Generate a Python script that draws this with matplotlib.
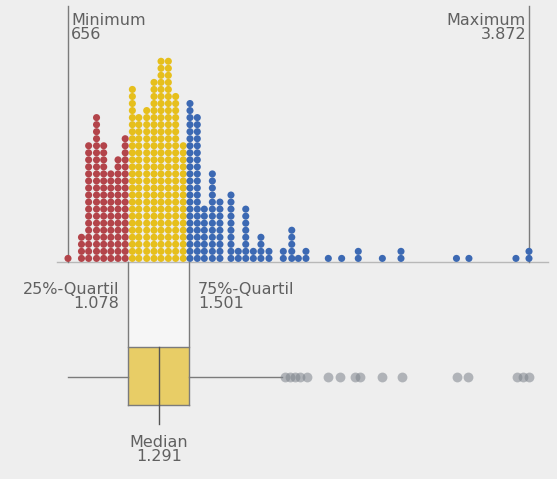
import matplotlib
matplotlib.use("Agg")
import matplotlib.pyplot as plt
import numpy as np

# ---------------- data ----------------
stack_values = [656, 750, 800, 855, 905, 955, 1005, 1055,
                1105, 1150, 1205, 1256, 1305, 1356, 1407, 1460,
                1507, 1558, 1607, 1663, 1716, 1793, 1844, 1896, 1949, 2002,
                2058, 2158, 2217, 2263, 2316, 2472, 2565, 2681, 2849, 2979,
                3366, 3453, 3781, 3872]
stack_counts = [1, 4, 17, 21, 17, 13, 15, 18,
                25, 21, 22, 26, 29, 29, 24, 17,
                23, 21, 8, 13, 9, 10, 2, 8, 2, 4,
                2, 2, 5, 1, 2, 1, 1, 2, 1, 2,
                1, 1, 1, 2]
minimum = 656
maximum = 3872
q1 = 1078
median = 1291
q3 = 1501
upper_whisker = 2150
outliers = [2170, 2205, 2240, 2275, 2322, 2472, 2554, 2659, 2694,
            2845, 2985, 3369, 3449, 3790, 3832, 3872]

def de(v):
    return f"{v:,}".replace(",", ".")

# ---------------- style ----------------
BG = "#eeeeee"
RED = "#b3444a"
YEL = "#e6bf1c"
BLUE = "#3c69b3"
BOXFILL = "#e8cd66"
LINE = "#7b7b7b"
TXT = "#606060"
W, H = 557, 479
BASE = 262.0      # baseline pixel row
ROW = 7.04        # dot row spacing (px)
PX0, PX1 = 68.0, 529.0   # pixel positions of min / max

plt.rcParams['font.family'] = ['DejaVu Sans']
fig = plt.figure(figsize=(W / 100, H / 100), dpi=100, facecolor=BG)
ax = fig.add_axes([0, 0, 1, 1], facecolor=BG)
k = (PX1 - PX0) / (maximum - minimum)
ax.set_xlim(minimum - PX0 / k, minimum + (W - PX0) / k)
ax.set_ylim(H, 0)
ax.axis("off")

# baseline
ax.plot([minimum - 11 / k, minimum + (W - 9 - PX0) / k], [BASE, BASE],
        color="#b8b8b8", lw=1.0, zorder=1)

# min / max lines
ax.plot([minimum, minimum], [BASE, 6], color=LINE, lw=1.0, zorder=1)
ax.plot([maximum, maximum], [BASE, 6], color=LINE, lw=1.0, zorder=1)

# dot stacks
xs, ys, cs = [], [], []
for v, c in zip(stack_values, stack_counts):
    col = RED if v < q1 else (YEL if v <= q3 else BLUE)
    for i in range(c):
        xs.append(v)
        ys.append(BASE - 3.6 - ROW * i)
        cs.append(col)
ax.scatter(xs, ys, s=26, c=cs, linewidths=0, zorder=3)

# box region
BOX_TOP, BOX_BOT, WHISK_Y, MED_BOT = 347.0, 405.0, 376.5, 424.0
ax.fill_between([q1, q3], BASE, BOX_TOP, color="#f6f6f6", lw=0, zorder=0.5)
ax.fill_between([q1, q3], BOX_TOP, BOX_BOT, color=BOXFILL, lw=0, zorder=2)
ax.plot([q1, q1], [BASE, BOX_BOT], color=LINE, lw=1.0, zorder=2.5)
ax.plot([q3, q3], [BASE, BOX_BOT], color=LINE, lw=1.0, zorder=2.5)
ax.plot([q1, q3], [BOX_TOP, BOX_TOP], color=LINE, lw=1.0, zorder=2.5)
ax.plot([q1, q3], [BOX_BOT, BOX_BOT], color=LINE, lw=1.0, zorder=2.5)
ax.plot([median, median], [BOX_TOP, MED_BOT], color="#555555", lw=1.0, zorder=2.6)
ax.plot([minimum, q1], [WHISK_Y, WHISK_Y], color=LINE, lw=1.0, zorder=2)
ax.plot([q3, upper_whisker], [WHISK_Y, WHISK_Y], color=LINE, lw=1.0, zorder=2)
ax.scatter(outliers, [WHISK_Y] * len(outliers), s=50, color="#7d848c",
           alpha=0.55, linewidths=0, zorder=3)

# labels
fs = 11.5
ls = 0.95
ax.annotate(f"Minimum\n{de(minimum)}", (minimum, 13), xytext=(3, 0),
            textcoords="offset pixels", ha="left", va="top", fontsize=fs,
            color=TXT, linespacing=ls)
ax.annotate(f"Maximum\n{de(maximum)}", (maximum, 13), xytext=(-3, 0),
            textcoords="offset pixels", ha="right", va="top", fontsize=fs,
            color=TXT, linespacing=ls, multialignment="right")
ax.annotate(f"25%-Quartil\n{de(q1)}", (q1, 282), xytext=(-9, 0),
            textcoords="offset pixels", ha="right", va="top", fontsize=fs,
            color=TXT, linespacing=ls, multialignment="right")
ax.annotate(f"75%-Quartil\n{de(q3)}", (q3, 282), xytext=(9, 0),
            textcoords="offset pixels", ha="left", va="top", fontsize=fs,
            color=TXT, linespacing=ls, multialignment="left")
ax.annotate(f"Median\n{de(median)}", (median, 435), ha="center", va="top",
            fontsize=fs, color=TXT, linespacing=ls, multialignment="center")

fig.savefig("out.png", dpi=100, facecolor=BG)
